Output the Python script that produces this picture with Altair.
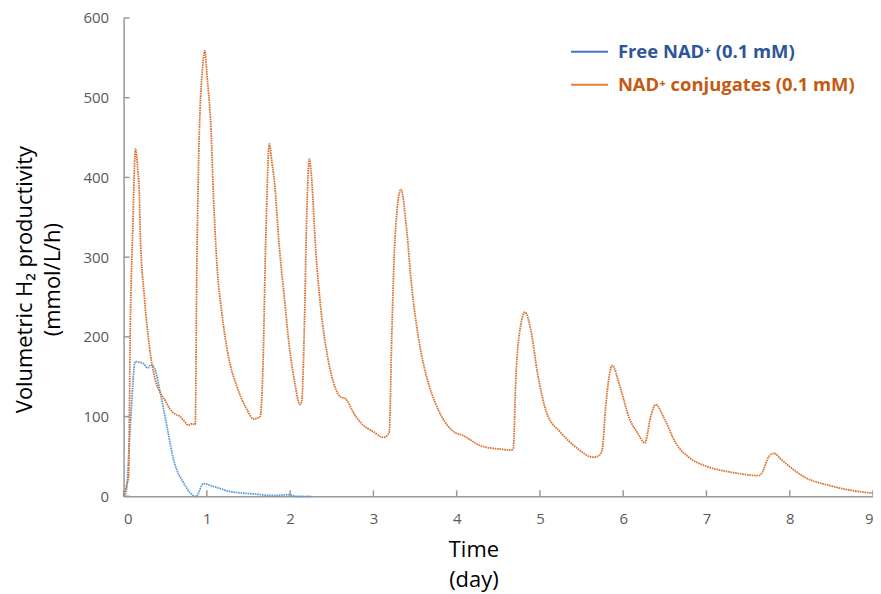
import altair as alt
import pandas as pd

# Orange series: NAD+ conjugates (0.1 mM)
conj_day = [0.0, 0.03, 0.06, 0.08, 0.11, 0.143, 0.17, 0.19, 0.2, 0.25, 0.31, 0.38, 0.44, 0.5, 0.56,
            0.62, 0.68, 0.73, 0.78, 0.82, 0.86, 0.88, 0.9, 0.95, 0.976, 1.0, 1.05, 1.08, 1.12, 1.18,
            1.26, 1.36, 1.48, 1.56, 1.64, 1.67, 1.71, 1.75, 1.78, 1.81, 1.87, 1.93, 1.99, 2.05, 2.12,
            2.14, 2.17, 2.2, 2.23, 2.25, 2.31, 2.37, 2.45, 2.55, 2.6, 2.67, 2.76, 2.87, 3.0, 3.12,
            3.17, 3.19, 3.22, 3.26, 3.33, 3.4, 3.46, 3.54, 3.66, 3.74, 3.82, 3.98, 4.06, 4.3, 4.54,
            4.66, 4.68, 4.71, 4.77, 4.82, 4.89, 4.97, 5.08, 5.25, 5.44, 5.64, 5.72, 5.75, 5.79, 5.87,
            5.96, 6.08, 6.17, 6.26, 6.33, 6.39, 6.5, 6.63, 6.8, 6.99, 7.31, 7.63, 7.67, 7.75, 7.81,
            7.9, 7.99, 8.18, 8.5, 8.9, 9.0]
conj_val = [0, 12, 25, 209, 334, 436, 410, 375, 330, 250, 188, 146, 130, 120, 109,
            103, 100, 94, 89, 91, 90, 292, 417, 540, 559, 530, 459, 375, 292, 230,
            175, 138, 109, 97, 100, 150, 334, 442, 420, 396, 313, 250, 188, 146, 115,
            120, 209, 355, 423, 409, 305, 234, 175, 134, 125, 122, 105, 90, 81, 74,
            77, 80, 200, 325, 385, 334, 263, 200, 142, 118, 100, 80, 77, 63, 59,
            58, 60, 146, 215, 231, 209, 155, 105, 80, 61, 49, 52, 60, 113, 164,
            138, 96, 80, 67, 100, 115, 96, 67, 48, 38, 30, 26, 30, 50, 54,
            46, 38, 24, 13, 5, 4]

# Blue series: Free NAD+ (0.1 mM)
free_day = [0.0, 0.03, 0.08, 0.14, 0.23, 0.29, 0.33, 0.37, 0.44, 0.52, 0.6, 0.72, 0.87, 0.96,
            1.06, 1.28, 1.56, 1.8, 1.99, 2.07, 2.25]
free_val = [0, 5, 88, 169, 167, 161, 165, 161, 130, 88, 46, 17, 0, 16,
            13, 6, 3, 1, 2, 0, 0]

series_names = ["Free NAD⁺ (0.1 mM)", "NAD⁺ conjugates (0.1 mM)"]
line_colors = ["#5B9BD5", "#D8722F"]
legend_line_colors = ["#4472C4", "#ED7D31"]
legend_text_colors = ["#2F5597", "#C55A11"]

x_ticks = [0, 1, 2, 3, 4, 5, 6, 7, 8, 9]
y_ticks = [0, 100, 200, 300, 400, 500, 600]

FONT = "Open Sans"
W, H = 752, 480

df = pd.concat([
    pd.DataFrame({"day": free_day, "value": free_val, "series": series_names[0], "order": range(len(free_day))}),
    pd.DataFrame({"day": conj_day, "value": conj_val, "series": series_names[1], "order": range(len(conj_day))}),
])

xscale = alt.Scale(domain=[0, 9], nice=False)
yscale = alt.Scale(domain=[0, 600], nice=False)

x_axis = alt.Axis(values=x_ticks, title=["Time", "(day)"], ticks=False, grid=False,
                  labelPadding=15, titleX=351, titleY=43, titleBaseline="top",
                  titleLineHeight=30)
y_axis = alt.Axis(values=y_ticks, title=["Volumetric H₂ productivity", "(mmol/L/h)"], ticks=False, grid=False,
                  labelPadding=15, titleX=-99, titleY=262, titleBaseline="middle",
                  titleLineHeight=28)

lines = alt.Chart(df).mark_line(strokeWidth=1.8, strokeDash=[1.6, 0.8], interpolate="monotone").encode(
    x=alt.X("day:Q", scale=xscale, axis=x_axis),
    y=alt.Y("value:Q", scale=yscale, axis=y_axis),
    color=alt.Color("series:N", scale=alt.Scale(domain=series_names, range=line_colors), legend=None),
    detail="series:N",
    order="order:Q",
)

ytick_df = pd.DataFrame({"value": y_ticks})
xtick_df = pd.DataFrame({"day": x_ticks})
yticks = alt.Chart(ytick_df).mark_rule(color="#999999", strokeWidth=1.5).encode(
    y=alt.Y("value:Q", scale=yscale, axis=y_axis), x=alt.value(0), x2=alt.value(6))
xticks = alt.Chart(xtick_df).mark_rule(color="#999999", strokeWidth=1.5).encode(
    x=alt.X("day:Q", scale=xscale, axis=x_axis), y=alt.value(H), y2=alt.value(H - 6))

leg_df = pd.DataFrame({
    "name": series_names,
    "lc": legend_line_colors,
    "tc": legend_text_colors,
    "ypix": [34, 67],
})
leg_lines = alt.Chart(leg_df).mark_rule(strokeWidth=2).encode(
    x=alt.value(449), x2=alt.value(486), y=alt.Y("ypix:Q", scale=None),
    color=alt.Color("lc:N", scale=None))
leg_text = alt.Chart(leg_df).mark_text(align="left", baseline="middle", font=FONT, fontSize=18.5,
                                       fontWeight="bold").encode(
    x=alt.value(496), y=alt.Y("ypix:Q", scale=None), text="name:N",
    color=alt.Color("tc:N", scale=None))

chart = alt.layer(lines, yticks, xticks, leg_lines, leg_text).properties(
    width=W, height=H,
    padding={"left": 116, "top": 9, "right": 0, "bottom": 95},
    autosize=alt.AutoSizeParams(type="none"),
    background="white",
).configure_view(strokeWidth=0).configure_axis(
    domainColor="#999999", domainWidth=1.5, grid=False,
    labelFont=FONT, labelFontSize=15, labelColor="#595959",
    titleFont=FONT, titleFontSize=22, titleColor="#000000", titleFontWeight="normal",
)

chart.save("out.html", embed_options={"renderer": "svg", "actions": False})
